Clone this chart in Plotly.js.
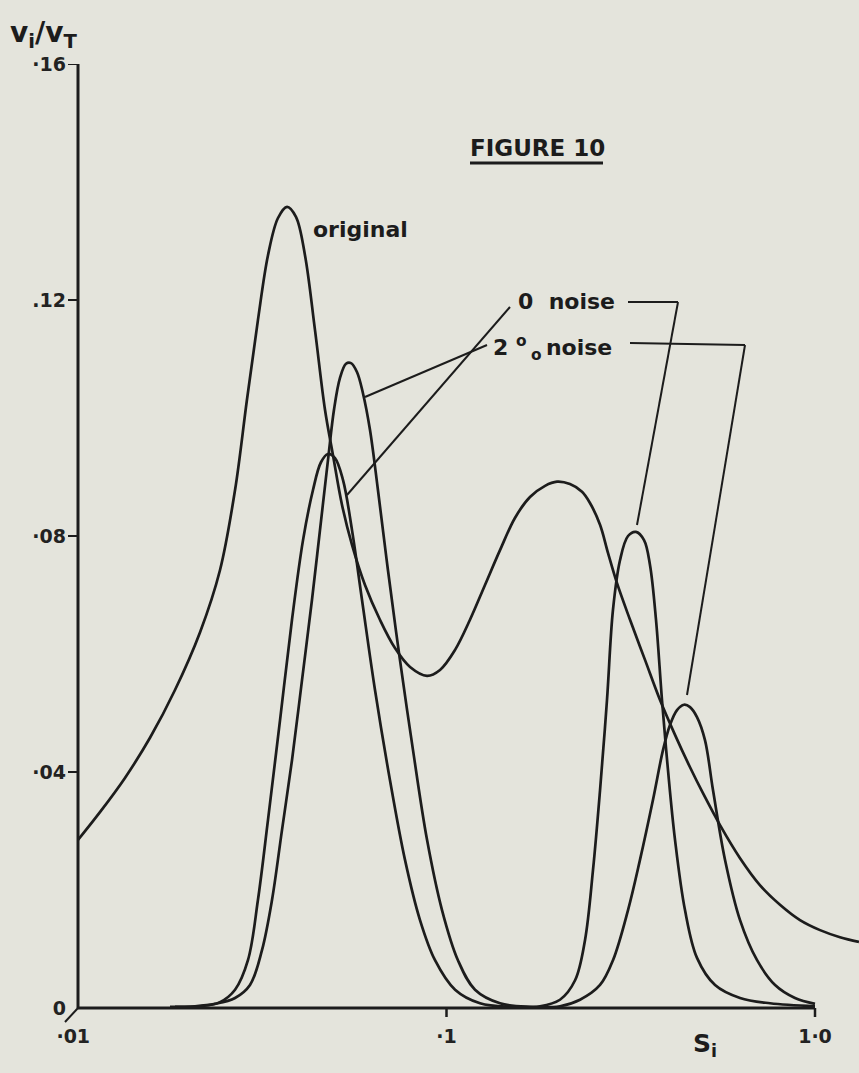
<!DOCTYPE html>
<html>
<head>
<meta charset="utf-8">
<script src="https://cdn.plot.ly/plotly-3.0.1.min.js"></script>
<style>
  html, body { margin: 0; padding: 0; background: #e4e4dc; }
  #chart { width: 859px; height: 1073px; }
</style>
</head>
<body>
<div id="chart"></div>
<script>
// Response curves v_i/v_T against S_i (log scale)
const originalS = [0.0100, 0.01147, 0.01341, 0.01568, 0.01833, 0.02144, 0.02428, 0.02668, 0.02874, 0.03078,
  0.03278, 0.03489, 0.03692, 0.03904, 0.04130, 0.04397, 0.04680, 0.04920, 0.05204, 0.05541,
  0.06009, 0.06598, 0.07247, 0.07962, 0.08855, 0.09603, 0.1055, 0.1158, 0.1272, 0.1397,
  0.1535, 0.1685, 0.1851, 0.1995, 0.2163, 0.2332, 0.2451, 0.2610, 0.2744, 0.2902,
  0.3148, 0.3457, 0.3797, 0.4170, 0.4580, 0.4966, 0.5524, 0.6260, 0.7095, 0.8035,
  0.9105, 1.032, 1.169, 1.316];
const originalV = [0.0285, 0.0332, 0.0390, 0.0458, 0.0539, 0.0637, 0.0742, 0.0878, 0.1031, 0.1166,
  0.1276, 0.1339, 0.1358, 0.1341, 0.1276, 0.1149, 0.1014, 0.0937, 0.0853, 0.0785,
  0.0717, 0.0658, 0.0610, 0.0578, 0.0563, 0.0573, 0.0607, 0.0658, 0.0717, 0.0776,
  0.0831, 0.0866, 0.0885, 0.0892, 0.0888, 0.0875, 0.0856, 0.0819, 0.0771, 0.0720,
  0.0658, 0.0590, 0.0522, 0.0463, 0.0408, 0.0364, 0.0310, 0.0254, 0.0208, 0.0175,
  0.0149, 0.0132, 0.0120, 0.0112];

const noise0S = [0.01833, 0.02144, 0.02428, 0.02668, 0.02892, 0.03078, 0.03278, 0.03534, 0.03808, 0.04080,
  0.04342, 0.04564, 0.04769, 0.04982, 0.05237, 0.05541, 0.05897, 0.06397, 0.07025, 0.07716,
  0.08474, 0.09307, 0.1055, 0.1233, 0.1487, 0.1794, 0.2032, 0.2233, 0.2376, 0.2498,
  0.2610, 0.2726, 0.2830, 0.2957, 0.3109, 0.3266, 0.3436, 0.3566, 0.3703, 0.3844,
  0.3991, 0.4170, 0.4438, 0.4784, 0.5355, 0.6260, 0.7550, 1.0];
const noise0V = [0.0002, 0.0003, 0.0010, 0.0031, 0.0081, 0.0183, 0.0319, 0.0488, 0.0658, 0.0793,
  0.0878, 0.0925, 0.0939, 0.0932, 0.0895, 0.0810, 0.0692, 0.0539, 0.0386, 0.0251,
  0.0149, 0.0081, 0.0031, 0.0008, 0.0002, 0.0003, 0.0014, 0.0047, 0.0115, 0.0234,
  0.0369, 0.0522, 0.0675, 0.0759, 0.0800, 0.0807, 0.0793, 0.0751, 0.0658, 0.0522,
  0.0403, 0.0285, 0.0166, 0.0085, 0.0039, 0.0017, 0.0008, 0.0003];

const noise2S = [0.01777, 0.02078, 0.02354, 0.02668, 0.02929, 0.03157, 0.03361, 0.03578, 0.03808, 0.04055,
  0.04315, 0.04536, 0.04769, 0.04951, 0.05140, 0.05337, 0.05505, 0.05715, 0.05933, 0.06199,
  0.06516, 0.06937, 0.07476, 0.08112, 0.08855, 0.09723, 0.1074, 0.1195, 0.1397, 0.1685,
  0.2032, 0.2303, 0.2610, 0.2830, 0.3109, 0.3350, 0.3634, 0.3868, 0.4043, 0.4222,
  0.4411, 0.4580, 0.4784, 0.5028, 0.5288, 0.5700, 0.6260, 0.6963, 0.7792, 0.8824,
  1.0];
const noise2V = [0.0002, 0.0003, 0.0007, 0.0017, 0.0039, 0.0098, 0.0183, 0.0302, 0.0420, 0.0556,
  0.0692, 0.0810, 0.0929, 0.1014, 0.1068, 0.1092, 0.1093, 0.1078, 0.1042, 0.0980,
  0.0878, 0.0742, 0.0590, 0.0437, 0.0285, 0.0166, 0.0081, 0.0031, 0.0008, 0.0002,
  0.0003, 0.0014, 0.0039, 0.0081, 0.0166, 0.0251, 0.0353, 0.0437, 0.0480, 0.0505,
  0.0514, 0.0510, 0.0493, 0.0454, 0.0369, 0.0251, 0.0149, 0.0081, 0.0039, 0.0017,
  0.0007];

const xTickVals = [0.01, 0.1, 1];
const xTickText = ['\u00b701\u2002', '\u00b71', '1\u00b70'];
const yTickVals = [0, 0.04, 0.08, 0.12, 0.16];
const yTickText = ['0', '\u00b704', '\u00b708', '.12', '\u00b716'];

const INK = '#1c1c1c';
const PAPER = '#e4e4dc';
const W = 859, H = 1073, ML = 78, MR = 0, MT = 64, MB = 65;
const PW = W - ML - MR, PH = H - MT - MB;
// pixel -> paper helpers for the hand-lettered labels and leaders
const px = x => (x - ML) / PW;
const py = y => (H - MB - y) / PH;

const lineStyle = { color: INK, width: 2.7, shape: 'spline', smoothing: 1.0 };
const traces = [
  { x: originalS, y: originalV, name: 'original', mode: 'lines', line: lineStyle, hoverinfo: 'skip' },
  { x: noise0S, y: noise0V, name: '0 noise', mode: 'lines', line: lineStyle, hoverinfo: 'skip' },
  { x: noise2S, y: noise2V, name: '2 % noise', mode: 'lines', line: lineStyle, hoverinfo: 'skip' }
];

const shapes = [];
const seg = (x0, y0, x1, y1, w, xref, yref) => shapes.push({
  type: 'line', xref: xref || 'paper', yref: yref || 'paper',
  x0: x0, y0: y0, x1: x1, y1: y1, line: { color: INK, width: w || 2 }
});
// axes
seg(0, 0, 0, 1, 3);
seg(xTickVals[0], 0, xTickVals[xTickVals.length - 1], 0, 3, 'x', 'paper');
// tick marks
yTickVals.filter(v => v > 0).forEach(v => seg(px(ML - 10), v, 0, v, 2, 'paper', 'y'));
xTickVals.slice(1).forEach(v => seg(v, 0, v, py(H - MB + 9), 2.5, 'x', 'paper'));
// corner stroke
seg(0, 0, px(65), py(1022), 2);
// FIGURE 10 underline
seg(px(470), py(163), px(603), py(163), 3);
// leaders
seg(px(628), py(302), px(678), py(302), 2);
seg(px(678), py(302), px(637), py(525), 2);
seg(px(630), py(343), px(745), py(345), 2);
seg(px(745), py(345), px(687), py(695), 2);
seg(px(510), py(307), px(347), py(495), 2);
seg(px(487), py(345), px(365), py(397), 2);

const labelFont = { family: 'DejaVu Sans', size: 22, color: INK };
const ann = (text, x, y, xanchor, font, yanchor) => ({
  text: text, xref: 'paper', yref: 'paper', x: px(x), y: py(y),
  xanchor: xanchor || 'left', yanchor: yanchor || 'middle', showarrow: false, font: font || labelFont
});
const annotations = [
  ann('<b>FIGURE 10</b>', 468, 148, 'left', { family: 'DejaVu Sans', size: 23, color: INK }),
  ann('<b>original</b>', 311, 230, 'left', labelFont),
  ann('<b>0\u00a0 noise</b>', 516, 301, 'left', labelFont),
  ann('<b>2\u00a0<sup>o</sup>\u2009<sub>o</sub>\u2009noise</b>', 491, 348, 'left', labelFont),
  ann('<b>v<sub>i</sub>/v<sub>T</sub></b>',
    8, 14, 'left', { family: 'DejaVu Sans', size: 28, color: INK }, 'top'),
  ann('<b>S<sub>i</sub></b>', 691, 1045, 'left', { family: 'DejaVu Sans', size: 25, color: INK })
];

const tickFont = { family: 'DejaVu Sans', size: 19, color: '#222', weight: 'bold' };
const layout = {
  width: W, height: H,
  margin: { l: ML, r: MR, t: MT, b: MB, pad: 0 },
  paper_bgcolor: PAPER, plot_bgcolor: PAPER,
  showlegend: false,
  xaxis: {
    type: 'log', range: [-2, 0.1194], showgrid: false, zeroline: false, showline: false,
    ticks: '', tickmode: 'array', tickvals: xTickVals, ticktext: xTickText,
    ticklabelstandoff: 15, tickfont: tickFont, fixedrange: true
  },
  yaxis: {
    range: [0, 0.16], showgrid: false, zeroline: false, showline: false,
    ticks: '', tickmode: 'array', tickvals: yTickVals, ticktext: yTickText,
    ticklabelstandoff: 11, tickfont: tickFont, fixedrange: true
  },
  shapes: shapes,
  annotations: annotations
};

Plotly.newPlot('chart', traces, layout, { staticPlot: true, displayModeBar: false });
</script>
</body>
</html>
